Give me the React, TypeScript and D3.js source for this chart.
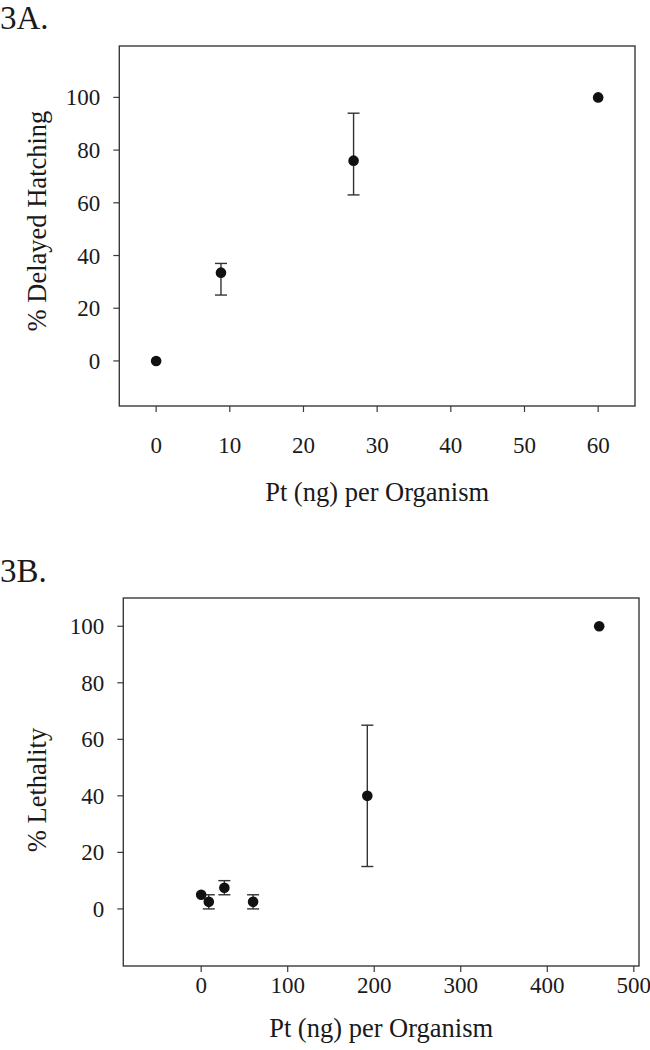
import React from "react";
import * as d3 from "d3";

// Panel A data
const doseA = [0, 8.8, 26.8, 60];
const hatchA = [0, 33.5, 76, 100];
const hatchLowA: (number | null)[] = [null, 25, 63, null];
const hatchHighA: (number | null)[] = [null, 37, 94, null];
const xTicksA = [0, 10, 20, 30, 40, 50, 60];
const yTicksA = [0, 20, 40, 60, 80, 100];

// Panel B data
const doseB = [0, 8.8, 26.8, 60, 192, 460];
const lethB = [5, 2.5, 7.5, 2.5, 40, 100];
const lethLowB: (number | null)[] = [null, 0, 5, 0, 15, null];
const lethHighB: (number | null)[] = [null, 5, 10, 5, 65, null];
const xTicksB = [0, 100, 200, 300, 400, 500];
const yTicksB = [0, 20, 40, 60, 80, 100];

const FONT = "'Liberation Serif', 'Times New Roman', serif";
const AXIS = "#3a3a3a";
const TXT = "#1a1a1a";

type PanelProps = {
  label: string;
  labelY: number;
  frame: { l: number; r: number; t: number; b: number };
  xDomain: [number, number];
  yDomain: [number, number];
  xs: number[];
  ys: number[];
  lows: (number | null)[];
  highs: (number | null)[];
  xTicks: number[];
  yTicks: number[];
  xLabelY: number;
  xTitleY: number;
  yTitle: string;
  yTitleY: number;
};

function Panel(p: PanelProps) {
  const x = d3.scaleLinear().domain(p.xDomain).range([p.frame.l, p.frame.r]);
  const y = d3.scaleLinear().domain(p.yDomain).range([p.frame.b, p.frame.t]);
  const tick = 6;
  const cap = 6;
  return (
    <g>
      <text x={0} y={p.labelY} fontFamily={FONT} fontSize={33} fill={TXT}>
        {p.label}
      </text>
      <rect
        x={p.frame.l}
        y={p.frame.t}
        width={p.frame.r - p.frame.l}
        height={p.frame.b - p.frame.t}
        fill="none"
        stroke={AXIS}
        strokeWidth={1.4}
      />
      {p.yTicks.map((v) => (
        <g key={"y" + v}>
          <line x1={p.frame.l - tick} x2={p.frame.l} y1={y(v)} y2={y(v)} stroke={AXIS} strokeWidth={1.2} />
          <text
            x={p.frame.l - 19}
            y={y(v)}
            dy="0.35em"
            textAnchor="end"
            fontFamily={FONT}
            fontSize={23}
            fill={TXT}
          >
            {v}
          </text>
        </g>
      ))}
      {p.xTicks.map((v) => (
        <g key={"x" + v}>
          <line x1={x(v)} x2={x(v)} y1={p.frame.b} y2={p.frame.b + tick} stroke={AXIS} strokeWidth={1.2} />
          <text
            x={x(v)}
            y={p.xLabelY}
            dy="0.35em"
            textAnchor="middle"
            fontFamily={FONT}
            fontSize={23}
            fill={TXT}
          >
            {v}
          </text>
        </g>
      ))}
      <text
        x={(p.frame.l + p.frame.r) / 2}
        y={p.xTitleY}
        dy="0.35em"
        textAnchor="middle"
        fontFamily={FONT}
        fontSize={26.5}
        fill={TXT}
      >
        Pt (ng) per Organism
      </text>
      <text
        transform={`translate(37,${p.yTitleY}) rotate(-90)`}
        dy="0.35em"
        textAnchor="middle"
        fontFamily={FONT}
        fontSize={26.5}
        fill={TXT}
      >
        {p.yTitle}
      </text>
      {p.xs.map((xv, i) => {
        const lo = p.lows[i];
        const hi = p.highs[i];
        return (
          <g key={"e" + i}>
            {lo !== null && hi !== null && (
              <g stroke="#333" strokeWidth={1.4}>
                <line x1={x(xv)} x2={x(xv)} y1={y(lo)} y2={y(hi)} />
                <line x1={x(xv) - cap} x2={x(xv) + cap} y1={y(lo)} y2={y(lo)} />
                <line x1={x(xv) - cap} x2={x(xv) + cap} y1={y(hi)} y2={y(hi)} />
              </g>
            )}
          </g>
        );
      })}
      {p.xs.map((xv, i) => (
        <circle key={"c" + i} cx={x(xv)} cy={y(p.ys[i])} r={5.3} fill="#111" />
      ))}
    </g>
  );
}

export default function App() {
  return (
    <svg
      width={650}
      height={1050}
      style={{ position: "absolute", left: 0, top: 0, background: "#fff" }}
    >
      <rect x={0} y={0} width={650} height={1050} fill="#fff" />
      <Panel
        label="3A."
        labelY={29}
        frame={{ l: 119.3, r: 635, t: 46, b: 406 }}
        xDomain={[-5, 65]}
        yDomain={[-17.1, 119.5]}
        xs={doseA}
        ys={hatchA}
        lows={hatchLowA}
        highs={hatchHighA}
        xTicks={xTicksA}
        yTicks={yTicksA}
        xLabelY={445}
        xTitleY={492}
        yTitle="% Delayed Hatching"
        yTitleY={221}
      />
      <Panel
        label="3B."
        labelY={582}
        frame={{ l: 123.3, r: 639, t: 598, b: 966 }}
        xDomain={[-90, 506]}
        yDomain={[-20.2, 110]}
        xs={doseB}
        ys={lethB}
        lows={lethLowB}
        highs={lethHighB}
        xTicks={xTicksB}
        yTicks={yTicksB}
        xLabelY={985}
        xTitleY={1028}
        yTitle="% Lethality"
        yTitleY={790}
      />
    </svg>
  );
}
